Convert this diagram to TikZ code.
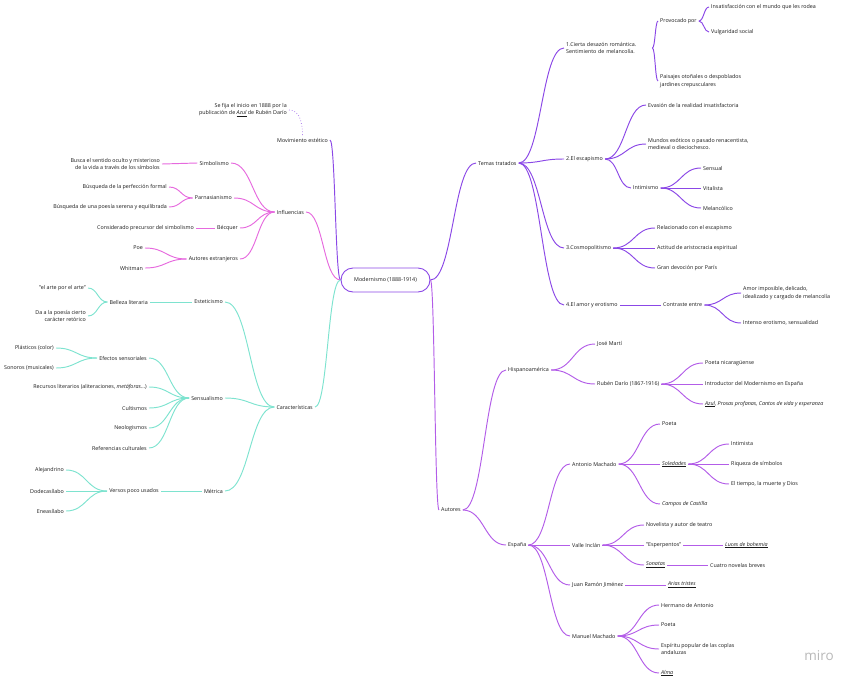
\documentclass[tikz,border=0pt]{standalone}
\usepackage{fontspec}
\setmainfont{Open Sans}
\usetikzlibrary{calc}
\definecolor{rosa}{HTML}{E66ADE}
\definecolor{turquesa}{HTML}{7EE3CF}
\definecolor{violeta}{HTML}{8B48E6}
\definecolor{lila}{HTML}{B35DE8}
\tikzstyle{txt}=[font=\fontsize{5.35}{7.8}\selectfont, text=black!90, inner sep=2pt]
\tikzstyle{izq}=[txt, anchor=east, align=right]
\tikzstyle{der}=[txt, anchor=west, align=left]
\tikzstyle{raiz}=[txt, draw=violeta, line width=0.9pt, rounded corners=12pt, minimum width=89pt, minimum height=24pt]
\tikzstyle{link}=[line width=0.95pt, to path={let \p1=(\tikztostart), \p2=(\tikztotarget) in .. controls ({0.5*\x1+0.5*\x2},\y1) and ({0.5*\x1+0.5*\x2},\y2) .. (\tikztotarget)}]
\tikzstyle{nota}=[line width=0.8pt, dotted, violeta!65]

\begin{document}
\begin{tikzpicture}[x=1pt, y=-1pt]
\useasboundingbox (0,0) rectangle (848,680);
\node[raiz] at (385.5, 280) (mod) {Modernismo (1888-1914)};

% lado izquierdo
\node[izq] at (330, 140) (mov) {Movimiento estético};
\node[izq] at (289, 110) (note) {Se fija el inicio en 1888 por la\\publicación de \underline{\textit{Azul}} de Rubén Darío};
\node[izq] at (306, 212) (infl) {Influencias};
\node[izq] at (231, 163) (simb) {Simbolismo};
\node[izq] at (162, 164) (simbA) {Busca el sentido oculto y misterioso\\de la vida a través de los símbolos};
\node[izq] at (234, 198) (parn) {Parnasianismo};
\node[izq] at (169, 187) (parnA) {Búsqueda de la perfección formal};
\node[izq] at (169, 207) (parnB) {Búsqueda de una poesía serena y equilibrada};
\node[izq] at (240, 228) (becq) {Bécquer};
\node[izq] at (196, 228) (becqA) {Considerado precursor del simbolismo};
\node[izq] at (240, 259) (autex) {Autores extranjeros};
\node[izq] at (145, 248) (poe) {Poe};
\node[izq] at (145, 268) (whit) {Whitman};

\node[izq] at (315, 407) (carac) {Características};
\node[izq] at (225, 302) (estet) {Esteticismo};
\node[izq] at (150, 302) (bell) {Belleza literaria};
\node[izq] at (88, 288) (bellA) {"el arte por el arte"};
\node[izq] at (88, 316) (bellB) {Da a la poesía cierto\\carácter retórico};
\node[izq] at (225, 398) (sens) {Sensualismo};
\node[izq] at (149, 358) (efec) {Efectos sensoriales};
\node[izq] at (56, 348) (plas) {Plásticos (color)};
\node[izq] at (56, 368) (sono) {Sonoros (musicales)};
\node[izq] at (149, 387) (recu) {Recursos literarios (aliteraciones, \textit{metáforas}...)};
\node[izq] at (149, 408) (cult) {Cultismos};
\node[izq] at (149, 428) (neol) {Neologismos};
\node[izq] at (149, 448) (refe) {Referencias culturales};
\node[izq] at (225, 491) (metr) {Métrica};
\node[izq] at (161, 491) (vers) {Versos poco usados};
\node[izq] at (66, 470) (alej) {Alejandrino};
\node[izq] at (66, 491) (dode) {Dodecasílabo};
\node[izq] at (66, 511) (enea) {Eneasílabo};

% lado derecho: temas
\node[der] at (476, 163) (temas) {Temas tratados};
\node[der, text width=84pt] at (564, 48) (t1) {1.Cierta desazón romántica.\\Sentimiento de melancolía.};
\node[der] at (658, 21) (prov) {Provocado por};
\node[der] at (709, 7) (provA) {Insatisfacción con el mundo que les rodea};
\node[der] at (709, 32) (provB) {Vulgaridad social};
\node[der] at (658, 81) (pais) {Paisajes otoñales o despoblados\\jardines crepusculares};
\node[der] at (564, 159) (t2) {2.El escapismo};
\node[der] at (646, 105) (evas) {Evasión de la realidad insatisfactoria};
\node[der] at (646, 144) (mund) {Mundos exóticos o pasado renacentista,\\medieval o dieciochesco.};
\node[der] at (631, 188) (inti) {Intimismo};
\node[der] at (701, 168) (sensu) {Sensual};
\node[der] at (701, 188) (vital) {Vitalista};
\node[der] at (701, 208) (melan) {Melancólico};
\node[der] at (564, 248) (t3) {3.Cosmopolitismo};
\node[der] at (655, 228) (rela) {Relacionado con el escapismo};
\node[der] at (655, 248) (acti) {Actitud de aristocracia espiritual};
\node[der] at (655, 268) (gran) {Gran devoción por París};
\node[der] at (564, 305) (t4) {4.El amor y erotismo};
\node[der] at (661, 305) (cont) {Contraste entre};
\node[der] at (741, 293) (amor) {Amor imposible, delicado,\\idealizado y cargado de melancolía};
\node[der] at (741, 323) (inte) {Intenso erotismo, sensualidad};

% lado derecho: autores
\node[der] at (439, 510) (autores) {Autores};
\node[der] at (506, 370) (hisp) {Hispanoamérica};
\node[der] at (595, 344) (marti) {José Martí};
\node[der] at (595, 384) (dario) {Rubén Darío (1867-1916)};
\node[der] at (703, 363) (nica) {Poeta nicaragüense};
\node[der] at (703, 384) (intro) {Introductor del Modernismo en España};
\node[der] at (703, 404) (obras) {\textit{\underline{Azul}, Prosas profanas, Cantos de vida y esperanza}};
\node[der] at (506, 545) (espa) {España};
\node[der] at (570, 464) (amach) {Antonio Machado};
\node[der] at (660, 424) (poeta1) {Poeta};
\node[der] at (660, 464) (sole) {\underline{\textit{Soledades}}};
\node[der] at (729, 444) (intim) {Intimista};
\node[der] at (729, 464) (riqu) {Riqueza de símbolos};
\node[der] at (729, 484) (tiem) {El tiempo, la muerte y Dios};
\node[der] at (660, 504) (camp) {\textit{Campos de Castilla}};
\node[der] at (570, 545) (valle) {Valle Inclán};
\node[der] at (644, 525) (nove) {Novelista y autor de teatro};
\node[der] at (644, 545) (espe) {"Esperpentos"};
\node[der] at (723, 545) (luces) {\underline{\textit{Luces de bohemia}}};
\node[der] at (644, 565) (sona) {\underline{\textit{Sonatas}}};
\node[der] at (708, 565) (cuat) {Cuatro novelas breves};
\node[der] at (570, 585) (juan) {Juan Ramón Jiménez};
\node[der] at (666, 585) (arias) {\underline{\textit{Arias tristes}}};
\node[der] at (570, 636) (mmach) {Manuel Machado};
\node[der] at (659, 605) (herm) {Hermano de Antonio};
\node[der] at (659, 625) (poeta2) {Poeta};
\node[der] at (659, 649) (espi) {Espíritu popular de las coplas\\andaluzas};
\node[der] at (659, 673) (alma) {\underline{\textit{Alma}}};

\node[text=black!28, font=\fontsize{13.5}{13.5}\selectfont] at (819, 656) (miro) {miro};

% conectores izquierda
\draw[nota] (note.east) to[out=0, in=90] (mov.north);
\draw[link, violeta] (mov.east) to (mod.west);
\draw[link, rosa] (infl.east) to (mod.west);
\draw[link, turquesa] (carac.east) to (mod.west);
\draw[link, rosa] (simbA.east) to (simb.west);
\draw[link, rosa] (simb.east) to (infl.west);
\draw[link, rosa] (parnA.east) to (parn.west);
\draw[link, rosa] (parnB.east) to (parn.west);
\draw[link, rosa] (parn.east) to (infl.west);
\draw[link, rosa] (becqA.east) to (becq.west);
\draw[link, rosa] (becq.east) to (infl.west);
\draw[link, rosa] (poe.east) to (autex.west);
\draw[link, rosa] (whit.east) to (autex.west);
\draw[link, rosa] (autex.east) to (infl.west);
\draw[link, turquesa] (bellA.east) to (bell.west);
\draw[link, turquesa] (bellB.east) to (bell.west);
\draw[link, turquesa] (bell.east) to (estet.west);
\draw[link, turquesa] (estet.east) to (carac.west);
\draw[link, turquesa] (plas.east) to (efec.west);
\draw[link, turquesa] (sono.east) to (efec.west);
\draw[link, turquesa] (efec.east) to (sens.west);
\draw[link, turquesa] (recu.east) to (sens.west);
\draw[link, turquesa] (cult.east) to (sens.west);
\draw[link, turquesa] (neol.east) to (sens.west);
\draw[link, turquesa] (refe.east) to (sens.west);
\draw[link, turquesa] (sens.east) to (carac.west);
\draw[link, turquesa] (alej.east) to (vers.west);
\draw[link, turquesa] (dode.east) to (vers.west);
\draw[link, turquesa] (enea.east) to (vers.west);
\draw[link, turquesa] (vers.east) to (metr.west);
\draw[link, turquesa] (metr.east) to (carac.west);

% conectores derecha
\draw[link, violeta] (mod.east) to (temas.west);
\draw[link, violeta] (temas.east) to (t1.west);
\draw[link, violeta] (temas.east) to (t2.west);
\draw[link, violeta] (temas.east) to (t3.west);
\draw[link, violeta] (temas.east) to (t4.west);
\draw[link, violeta] (t1.east) to (prov.west);
\draw[link, violeta] (t1.east) to (pais.west);
\draw[link, violeta] (prov.east) to (provA.west);
\draw[link, violeta] (prov.east) to (provB.west);
\draw[link, violeta] (t2.east) to (evas.west);
\draw[link, violeta] (t2.east) to (mund.west);
\draw[link, violeta] (t2.east) to (inti.west);
\draw[link, violeta] (inti.east) to (sensu.west);
\draw[link, violeta] (inti.east) to (vital.west);
\draw[link, violeta] (inti.east) to (melan.west);
\draw[link, violeta] (t3.east) to (rela.west);
\draw[link, violeta] (t3.east) to (acti.west);
\draw[link, violeta] (t3.east) to (gran.west);
\draw[link, violeta] (t4.east) to (cont.west);
\draw[link, violeta] (cont.east) to (amor.west);
\draw[link, violeta] (cont.east) to (inte.west);
\draw[link, lila] (mod.east) to (autores.west);
\draw[link, lila] (autores.east) to (hisp.west);
\draw[link, lila] (autores.east) to (espa.west);
\draw[link, lila] (hisp.east) to (marti.west);
\draw[link, lila] (hisp.east) to (dario.west);
\draw[link, lila] (dario.east) to (nica.west);
\draw[link, lila] (dario.east) to (intro.west);
\draw[link, lila] (dario.east) to (obras.west);
\draw[link, lila] (espa.east) to (amach.west);
\draw[link, lila] (espa.east) to (valle.west);
\draw[link, lila] (espa.east) to (juan.west);
\draw[link, lila] (espa.east) to (mmach.west);
\draw[link, lila] (amach.east) to (poeta1.west);
\draw[link, lila] (amach.east) to (sole.west);
\draw[link, lila] (amach.east) to (camp.west);
\draw[link, lila] (sole.east) to (intim.west);
\draw[link, lila] (sole.east) to (riqu.west);
\draw[link, lila] (sole.east) to (tiem.west);
\draw[link, lila] (valle.east) to (nove.west);
\draw[link, lila] (valle.east) to (espe.west);
\draw[link, lila] (valle.east) to (sona.west);
\draw[link, lila] (espe.east) to (luces.west);
\draw[link, lila] (sona.east) to (cuat.west);
\draw[link, lila] (juan.east) to (arias.west);
\draw[link, lila] (mmach.east) to (herm.west);
\draw[link, lila] (mmach.east) to (poeta2.west);
\draw[link, lila] (mmach.east) to (espi.west);
\draw[link, lila] (mmach.east) to (alma.west);
\end{tikzpicture}
\end{document}
